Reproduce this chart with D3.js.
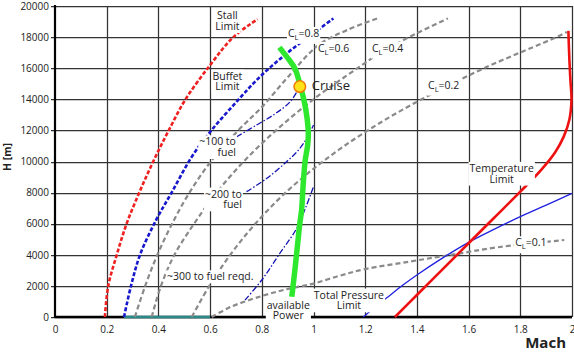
<!DOCTYPE html>
<html><head><meta charset="utf-8">
<script src="https://cdn.jsdelivr.net/npm/d3@7"></script>
<style>
body{margin:0;background:#fff;}
text{font-family:"Open Sans",sans-serif;fill:#222;}
</style></head><body>
<svg id="chart" width="574" height="353"></svg>
<script>
// ---- tick data ----
const xTicks = [0,0.2,0.4,0.6,0.8,1,1.2,1.4,1.6,1.8,2];
const xTickLabels = ["0","0.2","0.4","0.6","0.8","1","1.2","1.4","1.6","1.8","2"];
const yTicks = [0,2000,4000,6000,8000,10000,12000,14000,16000,18000,20000];
const yTickLabels = ["0","2000","4000","6000","8000","10000","12000","14000","16000","18000","20000"];

// ---- series: [Mach, H(m)] ----
const stallLimit = [[0.193,0],[0.206,2000],[0.239,4000],[0.277,6000],[0.326,8000],[0.38,10000],[0.44,12000],[0.505,14000],[0.6,16200],[0.69,18000],[0.784,19150]];
const buffetLimit = [[0.267,0],[0.294,2000],[0.329,4000],[0.39,6200],[0.451,8000],[0.529,10300],[0.6,11900],[0.7,13800],[0.793,15450],[0.9,17000],[1.0,18250],[1.077,19200]];
const cl06 = [[0.309,0],[0.349,2000],[0.396,4000],[0.453,6000],[0.52,8000],[0.603,10000],[0.703,11900],[0.8,13500],[0.91,15600],[1.02,17500],[1.13,18450],[1.246,19200]];
const cl04 = [[0.374,0],[0.41,2000],[0.462,4000],[0.538,6000],[0.625,8000],[0.73,10000],[0.855,12000],[1.0,14000],[1.17,16000],[1.26,17000],[1.37,18000],[1.52,19200]];
const cl02 = [[0.529,0],[0.597,2000],[0.678,4000],[0.775,6000],[0.892,8000],[1.036,10000],[1.21,12000],[1.418,14000],[1.66,16000],[1.94,18000],[1.98,18330]];
const cl01 = [[0.606,0],[0.68,650],[0.8,1350],[0.9,1800],[1.0,2150],[1.1,2650],[1.2,3080],[1.37,3560],[1.53,3990],[1.72,4500],[1.97,4950]];
const fuel100 = [[0.703,11590],[0.78,12350],[0.85,13050],[0.91,13850],[0.945,14750]];
const fuel200 = [[0.741,8060],[0.82,8920],[0.896,9990],[0.94,10700],[0.974,11490],[1.0,12350]];
const fuel300 = [[0.735,1090],[0.8,2380],[0.87,4100],[0.935,5700],[0.97,7050],[1.0,8380]];
const availablePower = [[0.868,17340],[0.905,16550],[0.928,15990],[0.95,14810],[0.965,13800],[0.975,12800],[0.98,11800],[0.977,11000],[0.968,10090],[0.96,8500],[0.954,6880],[0.947,6000],[0.938,4600],[0.928,3020],[0.916,1300]];
const temperatureLimit = [[1.315,0],[1.4,1415],[1.5,3080],[1.6,4740],[1.7,6400],[1.8,8060],[1.88,9450],[1.935,10600],[1.968,11600],[1.99,12700],[1.998,14000],[1.994,15200],[1.99,16500],[1.986,18400]];
const totalPressureLimit = [[1.193,0],[1.25,800],[1.3,1450],[1.35,2100],[1.4,2700],[1.5,3800],[1.6,4800],[1.7,5650],[1.8,6450],[1.9,7200],[2.0,7950]];
const groundLine = [[0.267,0],[0.6,0]];
const cruisePoint = [0.947,14820];

// annotation text (position in data units)
const annotations = [
  {lines:["Stall","Limit"], m:0.667, h:19377, anchor:"middle"},
  {lines:["Buffet","Limit"], m:0.667, h:15498, anchor:"middle"},
  {lines:["~100 to","fuel"], m:0.700, h:11273, anchor:"end"},
  {lines:["~200 to","fuel"], m:0.723, h:7910, anchor:"end"},
  {lines:["~300 to fuel reqd."], m:0.433, h:2592, anchor:"start"},
  {lines:["available","Power"], m:0.9025, h:772, anchor:"middle"},
  {lines:["Total Pressure","Limit"], m:1.137, h:1415, anchor:"middle"},
  {lines:["Temperature","Limit"], m:1.728, h:9563, anchor:"middle"}
];
const clLabels = [
  {v:"0.8", m:0.901, h:18244},
  {v:"0.6", m:1.017, h:17280},
  {v:"0.4", m:1.226, h:17300},
  {v:"0.2", m:1.443, h:14920},
  {v:"0.1", m:1.780, h:4778}
];

const svg = d3.select("#chart");
const xS = d3.scaleLinear().domain([0,2]).range([55,572]);
const yS = d3.scaleLinear().domain([0,20000]).range([317,6]);

// gridlines as one path
const gridD = [];
xTicks.slice(1).forEach(d=>{ const px=Math.round(xS(d))+0.5; gridD.push(`M${px},${yS(20000)}V${yS(0)}`); });
yTicks.forEach(d=>{ const py=Math.round(yS(d))+0.5; gridD.push(`M${xS(0)-4},${py}H${xS(2)}`); });
svg.append("path").attr("d",gridD.join("")).attr("fill","none")
  .style("stroke","#333").style("stroke-width","1.25px");

// tick labels
const yAxis = d3.axisLeft(yS).tickValues(yTicks).tickFormat((d,i)=>yTickLabels[i]).tickSize(0).tickPadding(6);
const gy = svg.append("g").attr("transform",`translate(${xS(0)},0)`).call(yAxis);
gy.select(".domain").remove();
gy.selectAll("text").style("font-family","Open Sans").style("font-size","10px").attr("fill","#222");
const xAxis = d3.axisBottom(xS).tickValues(xTicks).tickFormat((d,i)=>xTickLabels[i]).tickSize(0).tickPadding(9);
const gx = svg.append("g").attr("transform",`translate(0,${yS(0)})`).call(xAxis);
gx.select(".domain").remove();
gx.selectAll("text").style("font-family","Open Sans").style("font-size","10px").attr("fill","#222");

// frame
svg.append("path").attr("d",`M${xS(0)},${yS(20000)-1}V${yS(0)+1}`).attr("stroke","#000").attr("stroke-width",2.2);
svg.append("path").attr("d",`M${xS(0)},${yS(0)}H${xS(2)}`).attr("stroke","#000").attr("stroke-width",2.6);

const lineGen = d3.line().x(d=>xS(d[0])).y(d=>yS(d[1])).curve(d3.curveCatmullRom.alpha(0.5));
function draw(data, color, width, dash){
  svg.append("path").datum(data).attr("d",lineGen).attr("fill","none")
    .attr("stroke",color).attr("stroke-width",width)
    .attr("stroke-dasharray",dash||null).attr("stroke-linecap","butt");
}
draw(groundLine,"#2a8a8a",2.6);
draw(cl06,"#8a8a8a",2.2,"5,3");
draw(cl04,"#8a8a8a",2.2,"5,3");
draw(cl02,"#8a8a8a",2.2,"5,3");
draw(cl01,"#8a8a8a",2.2,"5,3");
draw(stallLimit,"#ee2020",2.6,"4,2");
draw(buffetLimit,"#1818cc",2.6,"4,2");
draw(fuel100,"#1414b4",1.3,"6,2,1.5,2");
draw(fuel200,"#1414b4",1.3,"6,2,1.5,2");
draw(fuel300,"#1414b4",1.3,"6,2,1.5,2");
draw(totalPressureLimit,"#2020e0",1.3);
draw(temperatureLimit,"#ee1111",2.6);
draw(availablePower,"#2ee82e",5.5);

// annotations with white backgrounds (one text element, tspans per line)
annotations.forEach(a=>{
  const g = svg.append("g");
  const bg = g.append("rect").attr("fill","#fff");
  const t = g.append("text").attr("x",xS(a.m)).attr("y",yS(a.h)+3.6)
    .attr("text-anchor",a.anchor).style("font-size","10.5px");
  a.lines.forEach((s,i)=>{
    t.append("tspan").attr("x",xS(a.m)).attr("dy",i===0?0:10.7).text(s);
  });
  const b = t.node().getBBox();
  bg.attr("x",b.x-1).attr("y",b.y+1).attr("width",b.width+2).attr("height",b.height-1);
});
clLabels.forEach(c=>{
  const g = svg.append("g");
  const bg = g.append("rect").attr("fill","#fff");
  const t = g.append("text").attr("x",xS(c.m)).attr("y",yS(c.h)+3.6).style("font-size","10.5px");
  t.append("tspan").text("C");
  t.append("tspan").attr("dy",3).style("font-size","7.5px").text("L");
  t.append("tspan").attr("dy",-3).text("="+c.v);
  const b = t.node().getBBox();
  bg.attr("x",b.x-1).attr("y",b.y+1).attr("width",b.width+2).attr("height",b.height+1);
});

// cruise
svg.append("circle").attr("cx",xS(cruisePoint[0])).attr("cy",yS(cruisePoint[1])).attr("r",5.8)
  .attr("fill","#ffe21a").attr("stroke","#f07800").attr("stroke-width",1.5);
svg.append("text").attr("x",xS(0.993)).attr("y",yS(14920)+4.6).style("font-size","13px").text("Cruise");

// axis titles
svg.append("text").attr("transform",`translate(11,157) rotate(-90)`).attr("text-anchor","middle")
  .style("font-size","10.5px").style("font-weight","bold").text("H [m]");
svg.append("text").attr("x",566).attr("y",348).attr("text-anchor","end")
  .style("font-size","15px").style("font-weight","bold").text("Mach");
</script>
</body></html>
